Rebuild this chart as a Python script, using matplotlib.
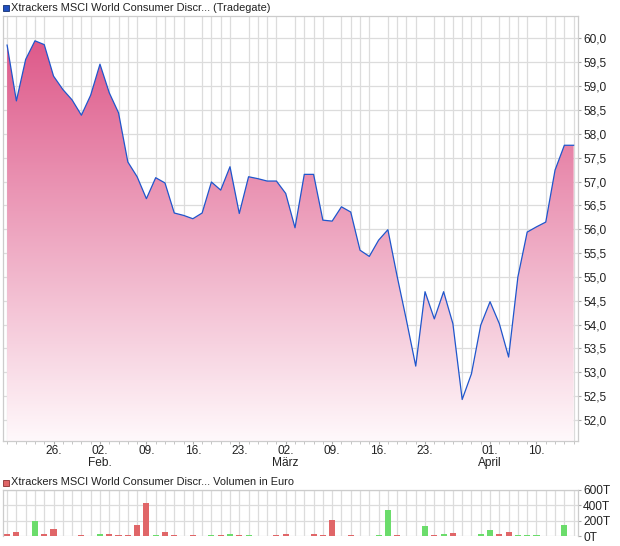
import numpy as np
import pandas as pd
import matplotlib.pyplot as plt
import matplotlib.ticker as mticker
from matplotlib.patches import Rectangle

plt.rcParams['font.family'] = ['Liberation Sans', 'DejaVu Sans']

# Tradegate trading days (closed Good Friday / Easter Monday)
holidays = ['2026-04-03', '2026-04-06']
dates = pd.bdate_range('2026-01-19', '2026-04-16').drop(pd.to_datetime(holidays))

close = [59.86, 58.69, 59.56, 59.95, 59.87, 59.21, 58.93, 58.71, 58.39, 58.81,
         59.46, 58.86, 58.44, 57.41, 57.10, 56.64, 57.08, 56.97, 56.34, 56.29,
         56.22, 56.34, 56.99, 56.82, 57.31, 56.33, 57.10, 57.06, 57.01, 57.01,
         56.75, 56.03, 57.15, 57.15, 56.19, 56.17, 56.47, 56.36, 55.56, 55.43,
         55.77, 55.99, 55.01, 54.09, 53.13, 54.69, 54.12, 54.69, 54.02, 52.43,
         52.97, 53.99, 54.48, 54.02, 53.32, 55.00, 55.94, 56.05, 56.15, 57.24,
         57.76, 57.76]

# volume in thousand euro
volume = [30, 56, 9, 197, 30, 94, 9, 0, 17, 9,
          34, 34, 21, 21, 150, 429, 21, 56, 21, 9,
          21, 9, 21, 21, 30, 21, 21, 9, 9, 21,
          30, 9, 9, 38, 17, 215, 4, 17, 4, 4,
          25, 342, 17, 4, 4, 139, 25, 38, 51, 4,
          4, 38, 89, 38, 63, 17, 25, 17, 4, 4,
          152, 4]

tick_dates = ['2026-01-26', '2026-02-02', '2026-02-09', '2026-02-16', '2026-02-23',
              '2026-03-02', '2026-03-09', '2026-03-16', '2026-03-23', '2026-04-01',
              '2026-04-10']
tick_labels = ['26.', '02.\nFeb.', '09.', '16.', '23.', '02.\nMärz', '09.', '16.',
               '23.', '01.\nApril', '10.']

title_price = 'Xtrackers MSCI World Consumer Discr... (Tradegate)'
title_vol = 'Xtrackers MSCI World Consumer Discr... Volumen in Euro'

grid_c = '#dcdcdc'
x = np.arange(len(close))
xlim = (-0.47, len(close) - 0.5)
ylim = (51.56, 60.47)

fig = plt.figure(figsize=(6.2, 5.46), dpi=100)
ax = fig.add_axes([0.0044, 0.1923, 0.9283, 0.7784])
axv = fig.add_axes([0.0044, 0.0174, 0.9283, 0.0852])

# ---- price panel
ax.set_xlim(*xlim)
ax.set_ylim(*ylim)
ax.set_yticks(np.arange(52.0, 60.01, 0.5))
ax.set_xticks(x, minor=True)
ax.grid(which='minor', axis='x', color=grid_c, lw=0.9, zorder=0)
ax.grid(which='major', axis='y', color=grid_c, lw=0.9, zorder=0)
ax.set_axisbelow(True)

poly = ax.fill_between(x, close, ylim[0], color='none', lw=0, zorder=2)
top_c = np.array([0.87, 0.35, 0.54])
bot_c = np.array([1.0, 0.975, 0.985])
t = np.linspace(0, 1, 256)[:, None]
grad = top_c * (1 - t) + bot_c * t
img = ax.imshow(grad[:, None, :], extent=[xlim[0], xlim[1], ylim[0], max(close)],
                aspect='auto', origin='upper', zorder=2)
img.set_clip_path(poly.get_paths()[0], transform=ax.transData)
ax.plot(x, close, color='#1f56cc', lw=0.9, zorder=3)

ax.yaxis.tick_right()
ax.yaxis.set_major_formatter(mticker.FuncFormatter(lambda v, p: f'{v:.1f}'.replace('.', ',')))
tick_pos = [dates.get_loc(pd.Timestamp(d)) for d in tick_dates]
ax.set_xticks(tick_pos)
ax.set_xticklabels(tick_labels, linespacing=1.0)
ax.tick_params(axis='y', which='major', length=2, color='#aaaaaa', labelsize=8.6,
               labelcolor='#222222', pad=1.5)
ax.tick_params(axis='x', which='major', length=2, color='#aaaaaa', labelsize=8.6,
               labelcolor='#222222', pad=0.8)
ax.tick_params(axis='x', which='minor', length=2, color='#bbbbbb')
for s in ax.spines.values():
    s.set_color('#cccccc')
    s.set_linewidth(0.9)

# ---- volume panel
bar_c = ['#e06668' if i == 0 or close[i] <= close[i - 1] else '#6bdc6b' for i in x]
axv.set_xlim(*xlim)
axv.set_ylim(0, 600)
axv.set_xticks(x, minor=True)
axv.set_xticks([])
axv.set_yticks([0, 200, 400, 600])
axv.grid(which='minor', axis='x', color=grid_c, lw=0.9, zorder=0)
axv.grid(which='major', axis='y', color=grid_c, lw=0.9, zorder=0)
axv.set_axisbelow(True)
axv.bar(x, volume, width=0.66, color=bar_c, zorder=2)
axv.yaxis.tick_right()
axv.yaxis.set_major_formatter(mticker.FuncFormatter(lambda v, p: f'{v:.0f}T'))
axv.tick_params(axis='y', length=2, color='#aaaaaa', labelsize=8.6, labelcolor='#222222', pad=1.5)
axv.tick_params(axis='x', which='minor', length=0)
for s in axv.spines.values():
    s.set_color('#cccccc')
    s.set_linewidth(0.9)
axv.spines['bottom'].set_visible(False)

# ---- headers
fig.patches.append(Rectangle((3 / 620, 1 - 11 / 546), 6 / 620, 6 / 546, transform=fig.transFigure,
                             facecolor='#1f4fbf', edgecolor='#13306f', lw=0.6))
fig.text(11 / 620, 1 - 8 / 546, title_price, fontsize=7.9, color='#222222', va='center')
fig.patches.append(Rectangle((3 / 620, 1 - 486 / 546), 6 / 620, 6 / 546, transform=fig.transFigure,
                             facecolor='#e06668', edgecolor='#8a3030', lw=0.6))
fig.text(11 / 620, 1 - 482 / 546, title_vol, fontsize=7.9, color='#222222', va='center')

fig.savefig('out.png', dpi=100)
